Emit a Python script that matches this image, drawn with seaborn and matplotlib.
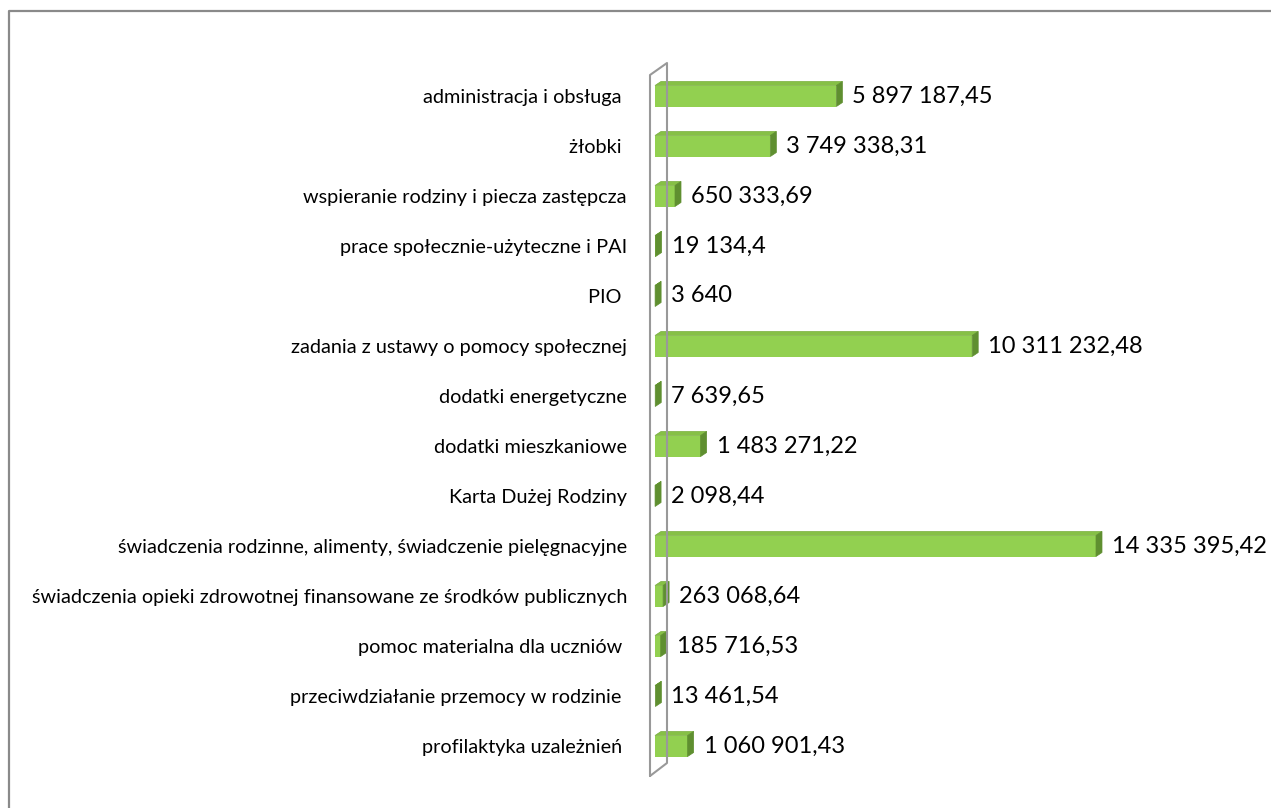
import matplotlib
matplotlib.use("Agg")
import matplotlib.pyplot as plt
from matplotlib.patches import Polygon
from matplotlib.lines import Line2D
import seaborn as sns
import pandas as pd

categories = [
    "administracja i obsługa ",
    "żłobki ",
    "wspieranie rodziny i piecza zastępcza",
    "prace społecznie-użyteczne i PAI",
    "PIO ",
    "zadania z ustawy o pomocy społecznej",
    "dodatki energetyczne",
    "dodatki mieszkaniowe",
    "Karta Dużej Rodziny",
    "świadczenia rodzinne, alimenty, świadczenie pielęgnacyjne",
    "świadczenia opieki zdrowotnej finansowane ze środków publicznych",
    "pomoc materialna dla uczniów ",
    "przeciwdziałanie przemocy w rodzinie ",
    "profilaktyka uzależnień ",
]
values = [
    5897187.45, 3749338.31, 650333.69, 19134.4, 3640, 10311232.48, 7639.65,
    1483271.22, 2098.44, 14335395.42, 263068.64, 185716.53, 13461.54, 1060901.43,
]


def fmt(v):
    s = f"{v:,.2f}".rstrip("0").rstrip(".")
    return s.replace(",", " ").replace(".", ",")


df = pd.DataFrame({"kategoria": categories, "kwota": values})

W, H, DPI = 1271, 808, 100
sns.set_theme(style="white")
plt.rcParams["font.family"] = ["Lato", "DejaVu Sans"]

fig = plt.figure(figsize=(W / DPI, H / DPI), dpi=DPI)
fig.patch.set_facecolor("white")

# axes placement in pixels
ax_left, ax_right, ax_top, ax_bottom = 650, 1230, 60, 780
ax = fig.add_axes([ax_left / W, 1 - ax_bottom / H, (ax_right - ax_left) / W, (ax_bottom - ax_top) / H])

sns.barplot(data=df, x="kwota", y="kategoria", orient="h", color="#92D050",
            saturation=1, width=0.42, ax=ax, linewidth=0)

x0_px = 655
vpp = 14335395.42 / (1096 - x0_px)  # value per pixel
ax.set_xlim(-(x0_px - ax_left) * vpp, (ax_right - x0_px) * vpp)
ax.set_ylim(13 + (ax_bottom - 746) / 50, -(96 - ax_top) / 50)

dx = 6 * vpp
dy = 4 / 50
for p in ax.patches:
    x, y, w, h = p.get_x(), p.get_y(), p.get_width(), p.get_height()
    top = Polygon([(x, y), (x + w, y), (x + w + dx, y - dy), (x + dx, y - dy)],
                  closed=True, facecolor="#86C046", edgecolor="#78AE3C", lw=0.5)
    side = Polygon([(x + w, y), (x + w + dx, y - dy), (x + w + dx, y + h - dy), (x + w, y + h)],
                   closed=True, facecolor="#5F8F30", edgecolor="#5F8F30", lw=0.5)
    ax.add_patch(top)
    ax.add_patch(side)

for i, v in enumerate(values):
    ax.annotate(fmt(v), xy=(v, i), xytext=(16 * 72 / DPI, 0), textcoords="offset points",
                va="center", ha="left", fontsize=17, color="black", annotation_clip=False)

ax.set_xlabel("")
ax.set_ylabel("")
ax.set_xticks([])
for s in ax.spines.values():
    s.set_visible(False)
ax.tick_params(axis="y", length=0, pad=23 * 72 / DPI, labelsize=14.3, labelcolor="black")
ax.set_facecolor("none")


def fx(px):
    return px / W


def fy(py):
    return 1 - py / H


wall_x = [650, 650, 667, 667, 650]
wall_y = [776, 75, 63, 763, 776]
fig.add_artist(Line2D([fx(a) for a in wall_x], [fy(b) for b in wall_y],
                      transform=fig.transFigure, color="#999999", lw=1.5))

# outer chart border (top and left visible)
fig.add_artist(Line2D([fx(9), fx(9), fx(W + 5)], [fy(H + 5), fy(10.5), fy(10.5)],
                      transform=fig.transFigure, color="#8A8A8A", lw=1.6))

fig.savefig("out.png", dpi=DPI, facecolor="white")
